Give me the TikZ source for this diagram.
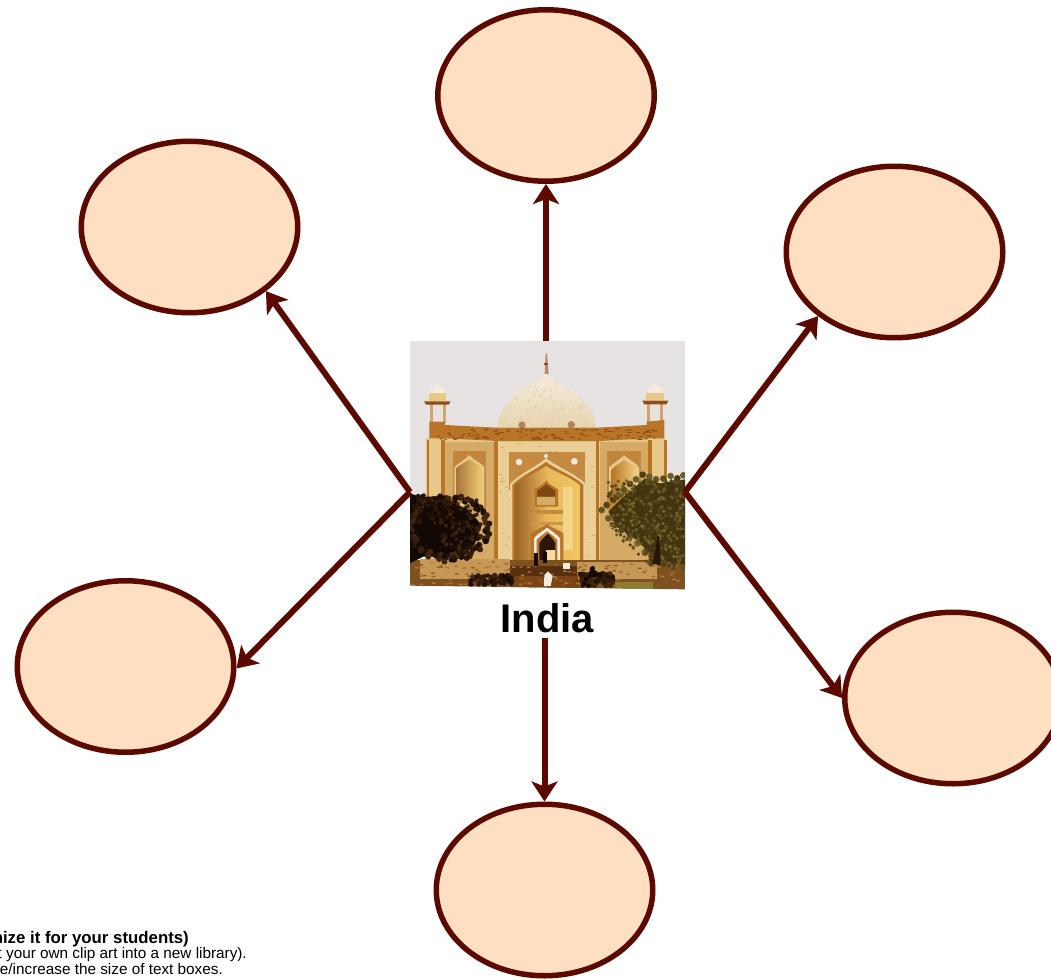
\documentclass[tikz,border=0pt]{standalone}
\usepackage{fontspec}
\setmainfont{Liberation Sans}
\usetikzlibrary{arrows.meta,shapes.geometric,calc}
\definecolor{maroon}{HTML}{5C0A00}
\definecolor{peach}{HTML}{FEDFC2}
\definecolor{sky}{HTML}{E8E3E3}
\definecolor{wall}{HTML}{E6C98A}
\definecolor{wallb}{HTML}{D4AA66}
\definecolor{trim}{HTML}{B87528}
\definecolor{trimd}{HTML}{8E4F17}
\definecolor{gold}{HTML}{F0C564}
\definecolor{domec}{HTML}{F3EBDD}
\definecolor{domed}{HTML}{E8D5AE}
\definecolor{ground}{HTML}{7E5220}
\definecolor{treeA}{HTML}{43330F}
\definecolor{treeB}{HTML}{7A6A30}
\definecolor{treeC}{HTML}{120804}
\definecolor{treeD}{HTML}{4A2A10}
\tikzset{
  bubble/.style={ellipse,draw=maroon,fill=peach,line width=5.5pt,minimum width=216.5pt,minimum height=171.5pt,inner sep=0pt},
  link/.style={draw=maroon,line width=6pt,-{Stealth[length=20pt,width=26pt,inset=5pt]}},
  note/.style={anchor=base east,inner sep=0pt,font=\fontsize{15.3}{16}\selectfont},
  boldnote/.style={anchor=base east,inner sep=0pt,font=\fontsize{16.8}{17}\selectfont\bfseries},
}
\begin{document}
\begin{tikzpicture}[x=1pt,y=-1pt]
\useasboundingbox (0,0) rectangle (1051,979);
\clip (0,0) rectangle (1051,979);
\fill[white] (0,0) rectangle (1051,979);
\pgfmathsetseed{4217}
\node[minimum width=275pt,minimum height=248pt,inner sep=0pt,outer sep=0pt] (photo) at (547.5,465) {};
\begin{scope}[shift={(400pt,-330pt)},x=.33333pt,y=-.33333pt]
  \begin{scope}
    \clip (30,33) -- (855,33) -- (855,778) -- (30,767) -- cycle;
    \fill[sky] (30,33) rectangle (855,520);
    % finial
    \fill[trimd!60!sky] (434,132) -- (437,70) -- (441,70) -- (446,132) -- cycle;
    \fill[trimd] (433,100) rectangle (444,106);
    % dome
    \begin{scope}
      \path[clip] (293,292) .. controls (293,250) and (325,205) .. (370,175) .. controls (400,158) and (428,150) .. (438,130)
        .. controls (448,150) and (476,158) .. (506,175) .. controls (552,205) and (587,250) .. (587,292) -- cycle;
      \shade[top color=domec,bottom color=domed] (285,125) rectangle (595,295);
      \foreach \i in {1,...,110}{
        \pgfmathsetmacro{\px}{295+rnd*290}
        \pgfmathsetmacro{\py}{150+rnd*140}
        \fill[trim!28!domec] (\px,\py) circle (2.6);
      }
    \end{scope}
    \fill[trimd!70] (366,285) circle (11);
    \fill[trimd!70] (514,284) circle (11);
    % left chhatri
    \fill[trim!60!domec] (90,222) rectangle (98,280);
    \fill[trim!60!domec] (128,222) rectangle (137,280);
    \fill[sky!90!wall] (98,226) rectangle (128,270);
    \fill[domec] (88,190) .. controls (88,175) and (100,170) .. (112,162) .. controls (124,170) and (136,175) .. (136,190) -- cycle;
    \fill[wall] (86,190) rectangle (138,212);
    \fill[trimd] (72,214) -- (152,214) -- (146,224) -- (78,224) -- cycle;
    % right chhatri
    \fill[trim!60!domec] (742,222) rectangle (751,280);
    \fill[trim!60!domec] (780,222) rectangle (790,280);
    \fill[sky!90!wall] (751,226) rectangle (780,270);
    \fill[domec] (741,188) .. controls (741,175) and (755,168) .. (765,160) .. controls (777,168) and (790,175) .. (790,188) -- cycle;
    \fill[wall] (739,188) rectangle (792,210);
    \fill[trimd] (727,212) -- (805,212) -- (799,223) -- (733,223) -- cycle;
    % main body
    \fill[wall] (78,325) rectangle (798,700);
    \fill[wallb] (130,335) rectangle (290,690);
    \fill[wallb] (600,335) rectangle (745,690);
    % towers + parapet
    \fill[trim] (88,275) -- (135,275) -- (135,285) -- (290,293) -- (590,293) -- (740,285) -- (740,275) -- (793,270) -- (793,325) -- (745,325) -- (600,333) -- (290,333) -- (135,325) -- (88,325) -- cycle;
    \foreach \i in {1,...,110}{
      \pgfmathsetmacro{\px}{92+rnd*695}
      \pgfmathsetmacro{\py}{296+rnd*32}
      \fill[trimd] (\px,\py) ellipse (6 and 1.8);
    }
    % vertical strips
    \foreach \xa/\xb in {80/88,124/134,282/294,587/598,745/755,792/800}
      \fill[trim] (\xa,330) rectangle (\xb,700);
    % central panel
    \fill[wall!90!white] (294,335) rectangle (587,700);
    \foreach \i in {1,...,110}{
      \pgfmathsetmacro{\px}{296+rnd*280}
      \pgfmathsetmacro{\py}{338+rnd*340}
      \fill[trim!35!wall] (\px,\py) rectangle ++(9,2);
    }
    % spandrel of main arch
    \fill[trim!75!wall] (326,365) rectangle (555,480);
    \fill[domec] (357,396) circle (10);
    \fill[domec] (523,394) circle (10);
    \fill[domec] (438,378) circle (6);
    % main iwan
    \fill[wall!85!white] (330,690) -- (330,462) .. controls (360,430) and (410,410) .. (438,385) .. controls (470,410) and (525,430) .. (557,462) -- (557,690) -- cycle;
    \fill[trim] (337,690) -- (337,465) .. controls (365,435) and (412,418) .. (438,395) .. controls (465,418) and (520,435) .. (550,465) -- (550,690) -- cycle;
    \shade[left color=trimd!85!wall,right color=gold,middle color=gold!85!trim]
      (345,690) -- (345,468) .. controls (370,442) and (415,425) .. (438,408) .. controls (462,425) and (515,442) .. (542,468) -- (542,690) -- cycle;
    \fill[gold!75!white] (490,470) rectangle (518,660);
    \fill[trim!75!wall] (393,540) rectangle (490,552);
    \fill[trim!60!wall] (393,575) rectangle (490,585);
    % upper small window
    \fill[trim] (404,530) -- (404,478) .. controls (415,470) and (430,465) .. (439,452) .. controls (448,465) and (462,470) .. (474,478) -- (474,530) -- cycle;
    \fill[trimd!90!black] (412,500) -- (412,482) .. controls (420,476) and (432,470) .. (439,462) .. controls (446,470) and (458,476) .. (466,482) -- (466,500) -- cycle;
    \fill[wallb] (412,500) rectangle (466,525);
    % lower door
    \fill[trim] (392,690) -- (392,610) .. controls (405,600) and (430,592) .. (441,582) .. controls (452,592) and (478,600) .. (490,610) -- (490,690) -- cycle;
    \fill[domec] (402,690) -- (402,625) .. controls (412,610) and (432,602) .. (441,593) .. controls (452,602) and (470,612) .. (480,625) -- (480,690) -- cycle;
    \fill[trim] (410,690) -- (410,630) .. controls (418,620) and (432,612) .. (441,604) .. controls (452,612) and (462,620) .. (472,630) -- (472,690) -- cycle;
    \fill[treeC!80!trimd] (418,690) -- (418,640) .. controls (425,625) and (440,615) .. (445,612) .. controls (452,620) and (462,630) .. (466,640) -- (466,660) -- (438,680) -- (438,690) -- cycle;
    \fill[gold!60!white] (438,660) rectangle (465,690);
    % side windows
    \fill[trim!80!wall] (158,362) rectangle (258,540);
    \fill[trim!80!wall] (622,362) rectangle (722,540);
    \fill[wall] (163,420) -- (163,412) .. controls (180,395) and (195,390) .. (207,375) .. controls (220,390) and (240,395) .. (253,412) -- (253,530) -- (163,530) -- cycle;
    \fill[wall] (627,420) -- (627,412) .. controls (645,395) and (660,390) .. (672,375) .. controls (685,390) and (705,395) .. (717,412) -- (717,500) -- (627,500) -- cycle;
    \shade[left color=trimd!70!wall,right color=gold!90!white]
      (168,520) -- (168,415) .. controls (182,402) and (197,397) .. (207,388) .. controls (220,397) and (235,402) .. (247,415) -- (247,520) -- cycle;
    \shade[left color=trim,right color=gold!80!white]
      (635,500) -- (635,418) .. controls (648,405) and (662,400) .. (672,390) .. controls (685,400) and (700,405) .. (712,418) -- (712,500) -- cycle;
    % base ground
    \fill[ground] (30,690) rectangle (855,780);
    \fill[wallb!80!trimd] (60,688) rectangle (330,748);
    \fill[wallb!80!trimd] (530,695) rectangle (770,748);
    \fill[trimd!60!black] (330,708) -- (530,708) -- (535,770) -- (330,770) -- cycle;
    \fill[trimd!70!treeD] (345,738) -- (530,738) -- (535,775) -- (335,775) -- cycle;
    \foreach \i in {1,...,150}{
      \pgfmathsetmacro{\px}{35+rnd*810}
      \pgfmathsetmacro{\py}{695+rnd*70}
      \pgfmathsetmacro{\mixv}{int(rnd*60)}
      \fill[wallb!\mixv!trimd] (\px,\py) ellipse (6 and 2.4);
    }
    % shrubs
    \foreach \i in {1,...,70}{
      \pgfmathsetmacro{\px}{210+rnd*130}
      \pgfmathsetmacro{\py}{735+rnd*30}
      \pgfmathsetmacro{\mixv}{int(rnd*100)}
      \fill[treeC!\mixv!treeD] (\px,\py) circle (7);
    }
    \foreach \i in {1,...,80}{
      \pgfmathsetmacro{\px}{540+rnd*100}
      \pgfmathsetmacro{\py}{730+rnd*38}
      \pgfmathsetmacro{\mixv}{int(rnd*100)}
      \fill[treeC!\mixv!treeD] (\px,\py) circle (7);
    }
    \foreach \i in {1,...,14}{
      \pgfmathsetmacro{\px}{565+rnd*25}
      \pgfmathsetmacro{\py}{712+rnd*25}
      \fill[treeC] (\px,\py) circle (7);
    }
    \fill[olive!40!ground] (645,755) -- (760,755) -- (760,778) -- (645,778) -- cycle;
    % person and figures
    \fill[domec] (432,768) -- (433,735) -- (444,724) -- (458,738) -- (452,768) -- cycle;
    \fill[treeC] (401,670) rectangle (413,708);
    \fill[treeC] (430,665) rectangle (442,700);
    \fill[domec] (488,698) rectangle (510,716);
    % left tree: dark mass with a leafy edge
    \fill[treeC] (30,490) -- (60,500) -- (125,500) -- (205,540) -- (245,585) -- (225,640) -- (190,680) -- (70,680) -- (30,700) -- cycle;
    \foreach \a in {0,4,...,356}{
      \pgfmathsetmacro{\px}{140+115*cos(\a)+rnd*16}
      \pgfmathsetmacro{\py}{585+95*sin(\a)+rnd*16}
      \pgfmathsetmacro{\mixv}{int(rnd*100)}
      \fill[treeC!\mixv!treeD] (\px,\py) circle (9);
    }
    \foreach \i in {1,...,130}{
      \pgfmathsetmacro{\px}{120+rnd*125}
      \pgfmathsetmacro{\py}{505+rnd*170}
      \pgfmathsetmacro{\mixv}{int(rnd*100)}
      \fill[treeC!\mixv!treeD] (\px,\py) circle (6);
    }
    \foreach \i in {1,...,70}{
      \pgfmathsetmacro{\px}{40+rnd*120}
      \pgfmathsetmacro{\py}{495+rnd*90}
      \pgfmathsetmacro{\mixv}{int(40+rnd*60)}
      \fill[treeC!\mixv!treeD] (\px,\py) circle (6);
    }
    % right tree: olive mass with a leafy edge
    \fill[treeA] (625,545) -- (660,510) -- (695,480) -- (735,445) -- (780,460) -- (810,455) -- (855,448) -- (855,705) -- (770,690) -- (710,630) -- (650,590) -- cycle;
    \foreach \p/\q in {605/540,620/525,640/510,655/495,672/480,690/462,708/448,728/434,748/440,768/448,790/446,812/438,832/445,850/436,625/565,645/585,665/600,690/618,712/640,735/668,760/692,790/702,820/708,850/712}{
      \pgfmathsetmacro{\mixv}{int(rnd*100)}
      \fill[treeA!\mixv!treeB] (\p,\q) circle (10);
    }
    \foreach \i in {1,...,420}{
      \pgfmathsetmacro{\px}{625+rnd*230}
      \pgfmathsetmacro{\py}{450+rnd*260}
      \pgfmathsetmacro{\test}{(\px-620)*0.9-(\py-560)}
      \ifdim \test pt>-30pt
        \pgfmathsetmacro{\mixv}{int(rnd*100)}
        \fill[treeA!\mixv!treeB] (\px,\py) circle (5.5);
      \fi
    }
    \fill[treeC!60!treeD] (758,702) -- (772,620) -- (778,620) -- (782,705) -- cycle;
  \end{scope}
\end{scope}
% labels
\node[anchor=base,inner sep=0pt,font=\fontsize{40}{40}\selectfont\bfseries] (india) at (547.5,632) {India};
\node[boldnote] (n1) at (189,943) {nize it for your students)};
\node[note] (n2) at (247,958) {t your own clip art into a new library).};
\node[note] (n3) at (223,974) {e/increase the size of text boxes.};
% bubbles
\node[bubble] (top) at (546,95.5) {};
\node[bubble] (ul) at (189.5,227) {};
\node[bubble] (ur) at (894.5,252) {};
\node[bubble] (ll) at (125.5,666.5) {};
\node[bubble] (lr) at (953,698) {};
\node[bubble] (bot) at (544.5,890) {};
% connectors
\coordinate (pl) at ($(photo.west)+(0,27)$);
\coordinate (pr) at ($(photo.east)+(0,27)$);
\coordinate (pt) at (top |- photo.north);
\coordinate (ib) at ($(bot |- india.south)+(0,5)$);
\draw[link] (pt) -- (top.south);
\draw[link] (pl) -- (ul.-40);
\draw[link] (pr) -- (ur.220);
\draw[link] (pl) -- (ll.-1);
\draw[link] (pr) -- (lr.180);
\draw[link] (ib) -- (bot.north);
\end{tikzpicture}
\end{document}
